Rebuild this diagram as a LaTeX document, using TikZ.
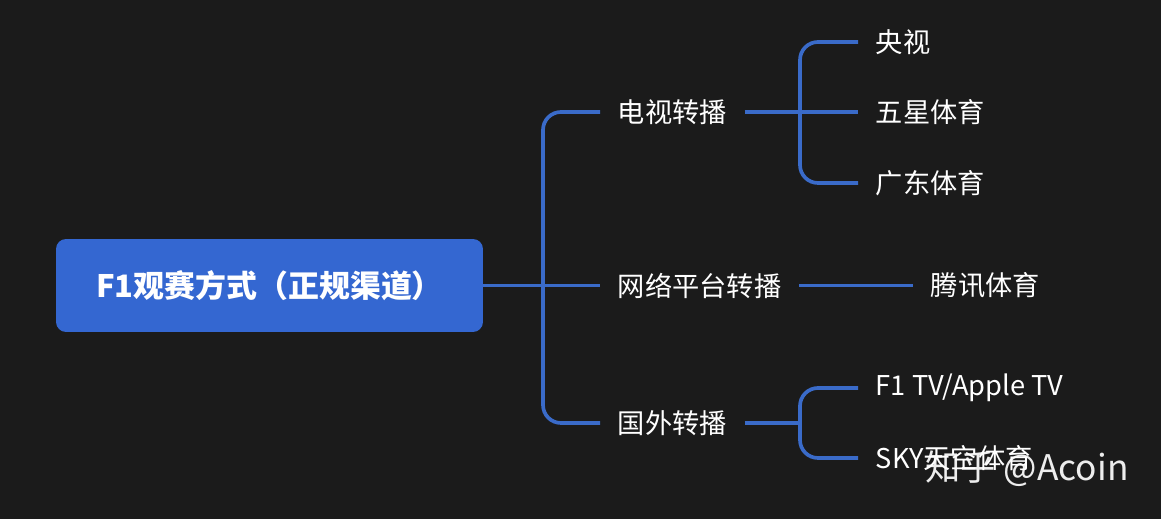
\documentclass[tikz,border=0pt]{standalone}
\usepackage{fontspec}
\setmainfont{Noto Sans CJK SC}
\definecolor{bgdark}{HTML}{1B1B1B}
\definecolor{rootblue}{HTML}{3467D1}
\definecolor{linkblue}{HTML}{3A6BC9}
\tikzset{
  rootbox/.style={fill=rootblue, rounded corners=0.2cm, text=white, font=\fontsize{17.6}{20}\selectfont\bfseries,
    minimum width=8.54cm, minimum height=1.86cm},
  item/.style={anchor=west, text=white, font=\fontsize{15.5}{18}\selectfont, inner xsep=0.35cm, inner ysep=0pt},
  link/.style={draw=linkblue, line width=2.1pt, rounded corners=0.36cm}
}
\begin{document}
\begin{tikzpicture}[x=0.02cm, y=-0.02cm]
\useasboundingbox (0,0) rectangle (1161,519);
\fill[bgdark] (0,0) rectangle (1161,519);

\node[rootbox] (root) at (269.5,285.5) {F1观赛方式（正规渠道）};

\node[item] (tv) at (600,112) {电视转播};
\node[item] (net) at (600,285.5) {网络平台转播};
\node[item] (abroad) at (600,423) {国外转播};

\node[item] (cctv) at (858,42) {央视};
\node[item] (wuxing) at (858,112) {五星体育};
\node[item] (guangdong) at (858,183) {广东体育};
\node[item] (tencent) at (913,285.5) {腾讯体育};
\node[item] (f1tv) at (858,388) {F1 TV/Apple TV};
\node[item] (sky) at (858,458) {SKY天空体育};

\coordinate (trunk) at (543,285.5);
\coordinate (tvfork) at (800,112);
\coordinate (abfork) at (800,423);

\draw[link] (root.east) -- (net.west);
\draw[link] (tv.west) -| (trunk) |- (abroad.west);
\draw[link] (net.east) -- (tencent.west);
\draw[link] (tv.east) -- (wuxing.west);
\draw[link] (cctv.west) -| (tvfork) |- (guangdong.west);
\draw[link] (abroad.east) -- (abfork);
\draw[link] (f1tv.west) -| (abfork) |- (sky.west);

\node[text=white, opacity=0.92, font=\fontsize{20.1}{24}\selectfont, anchor=west, inner sep=0pt] (mark) at (925,469) {知乎 @Acoin};
\end{tikzpicture}
\end{document}
